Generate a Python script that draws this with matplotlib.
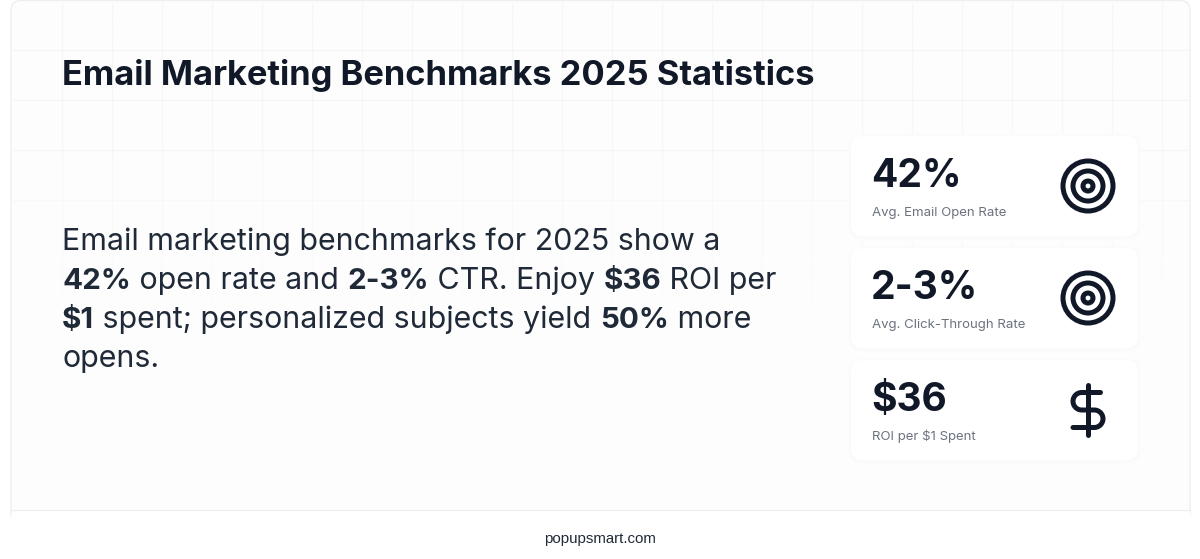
import numpy as np
import matplotlib
matplotlib.use("Agg")
import matplotlib.pyplot as plt
from matplotlib.patches import FancyBboxPatch, Circle
from matplotlib.collections import LineCollection

TITLE = "Email Marketing Benchmarks 2025 Statistics"
BODY_LINES = [
    [("Email marketing benchmarks for 2025 show a", False)],
    [("42%", True), (" open rate and ", False), ("2-3%", True), (" CTR. Enjoy ", False), ("$36", True), (" ROI per", False)],
    [("$1", True), (" spent; personalized subjects yield ", False), ("50%", True), (" more", False)],
    [("opens.", False)],
]
STAT_VALUES = ["42%", "2-3%", "$36"]
STAT_LABELS = ["Avg. Email Open Rate", "Avg. Click-Through Rate", "ROI per $1 Spent"]
STAT_ICONS = ["target", "target", "dollar"]
FOOTER = "popupsmart.com"

DARK = "#111827"
BODY = "#1f2937"
GREY = "#6b7280"
px = 0.72

fig = plt.figure(figsize=(12, 5.59), dpi=100, facecolor="white")
ax = fig.add_axes([0, 0, 1, 1])
ax.set_xlim(0, 1200)
ax.set_ylim(559, 0)
ax.axis("off")

# panel
ax.add_patch(FancyBboxPatch((11, 0.5), 1179, 540, boxstyle="round,pad=0,rounding_size=10",
                            fc="#fdfdfd", ec="#eceef0", lw=0.9, zorder=1))
# faint grid that fades out downwards
segs, cols = [], []
for x in np.arange(62, 1190, 50):
    for y0 in np.arange(2, 300, 12):
        fade = max(0.0, 1 - (y0 / 300) ** 2)
        segs.append([(x, y0), (x, y0 + 12)])
        cols.append((0.90, 0.91, 0.92, 0.32 * fade))
for y, fade in zip((50, 100, 150, 200), (1, 1, 0.9, 0.6)):
    segs.append([(12, y), (1189, y)])
    cols.append((0.90, 0.91, 0.92, 0.32 * fade))
ax.add_collection(LineCollection(segs, colors=cols, linewidths=0.9, zorder=1.1))
ax.fill_between([0, 1200], 517, 559, color="white", zorder=1.2)
ax.fill_between([12, 1189], 510, 517, color="white", zorder=1.2)
ax.plot([11, 1190], [509.5, 509.5], color="#eceef0", lw=0.9, zorder=1.3)

ax.text(62, 85, TITLE, family="Inter", weight="bold", fontsize=34.5 * px, color=DARK,
        va="baseline", zorder=3)

renderer = fig.canvas.get_renderer()
ys = [250, 289, 328, 367]
for line, y in zip(BODY_LINES, ys):
    x = 62
    for seg, bold in line:
        label = seg.replace(" ", "\u00a0")
        t = ax.text(x, y, label, family="Inter", weight="bold" if bold else "normal",
                    fontsize=(29.6 if bold else 30.4) * px, color=BODY, va="baseline", zorder=3)
        tw, _, _ = renderer.get_text_width_height_descent(label, t.get_fontproperties(), False)
        x += tw

tops = [136, 248, 360]
for top, val, lab, icon in zip(tops, STAT_VALUES, STAT_LABELS, STAT_ICONS):
    for grow, shade in ((3, "#fcfcfc"), (1.5, "#fafafb")):
        ax.add_patch(FancyBboxPatch((851 - grow, top - grow + 1), 287 + 2 * grow, 100 + 2 * grow,
                                    boxstyle="round,pad=0,rounding_size=14",
                                    fc=shade, ec="none", zorder=1.8))
    ax.add_patch(FancyBboxPatch((851, top), 287, 100, boxstyle="round,pad=0,rounding_size=12",
                                fc="#ffffff", ec="none", zorder=2))
    ax.text(871, top + 51, val, family="Inter", weight="bold", fontsize=39 * px, color=DARK,
            va="baseline", zorder=3)
    ax.text(872, top + 80, lab, family="Inter", fontsize=13.2 * px, color=GREY, va="baseline", zorder=3)
    cx, cy = 1088, top + 50
    if icon == "target":
        for r in (25, 15, 5):
            ax.add_patch(Circle((cx, cy), r, fc="none", ec=DARK, lw=5 * px, zorder=3))
    else:
        s = 2.5
        ax.plot([cx, cx], [cy - 25, cy + 25], color=DARK, lw=5 * px, solid_capstyle="round", zorder=3)
        a1 = np.radians(np.linspace(270, 90, 24))
        a2 = np.radians(np.linspace(-90, 90, 24))
        us = np.r_[17, 9.5 + 3.5 * np.cos(a1), 14.5 + 3.5 * np.cos(a2), 6]
        vs = np.r_[5, 8.5 + 3.5 * np.sin(a1), 15.5 + 3.5 * np.sin(a2), 19]
        ax.plot(cx + (us - 12) * s, cy + (vs - 12) * s, color=DARK, lw=5 * px,
                solid_capstyle="round", solid_joinstyle="round", zorder=3)

ax.text(600, 538.5, FOOTER, family="Liberation Sans", fontsize=15 * px, color="#1f2937",
        ha="center", va="center", zorder=3)

fig.savefig("out.png", dpi=100, facecolor="white")
